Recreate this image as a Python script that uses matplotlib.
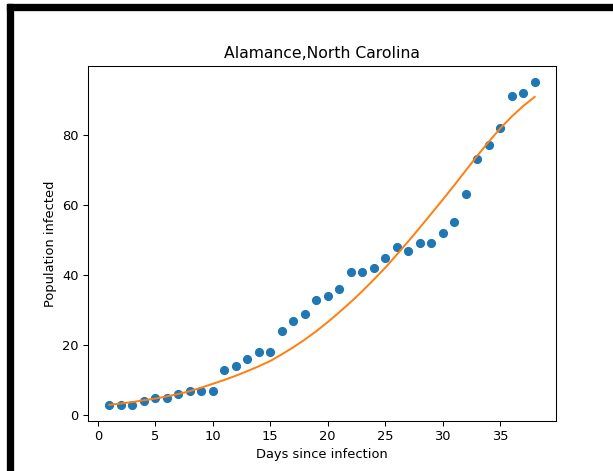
import matplotlib
matplotlib.use('Agg')
import matplotlib.pyplot as plt
from matplotlib.patches import Rectangle

days = list(range(1, 39))
infected = [3, 3, 3, 4, 5, 5, 6, 7, 7, 7,
            13, 14, 16, 18, 18, 24, 27, 29, 33, 34,
            36, 41, 41, 42, 45, 48, 47, 49, 49, 52,
            55, 63, 73, 77, 82, 91, 92, 95]
fitted = [3.0, 3.4, 3.8, 4.3, 4.8, 5.4, 6.1, 6.9, 7.9, 9.0,
          10.1, 11.3, 12.6, 14.0, 15.5, 17.4, 19.4, 21.6, 24.0, 26.6,
          29.4, 32.3, 35.4, 38.7, 42.1, 45.8, 49.6, 53.5, 57.5, 61.5,
          65.6, 69.8, 74.0, 78.0, 81.8, 85.2, 88.2, 90.8]

W, H = 613, 471
dpi = 94
fig = plt.figure(figsize=(W / dpi, H / dpi), dpi=dpi)

# screenshot frame (black bands top and left)
fig.patches.append(Rectangle((7 / W, 1 - 10 / H), 1 - 7 / W, 6 / H,
                             transform=fig.transFigure, color='black', zorder=10))
fig.patches.append(Rectangle((7 / W, 0), 6 / W, 1 - 4 / H,
                             transform=fig.transFigure, color='black', zorder=10))

ax = fig.add_axes([88 / W, 1 - 421 / H, 468 / W, 355 / H])
ax.scatter(days, infected)
ax.plot(days, fitted, color='tab:orange')
ax.set_title('Alamance,North Carolina')
ax.set_xlabel('Days since infection')
ax.set_ylabel('Population infected')

fig.savefig('out.png', dpi=dpi)
